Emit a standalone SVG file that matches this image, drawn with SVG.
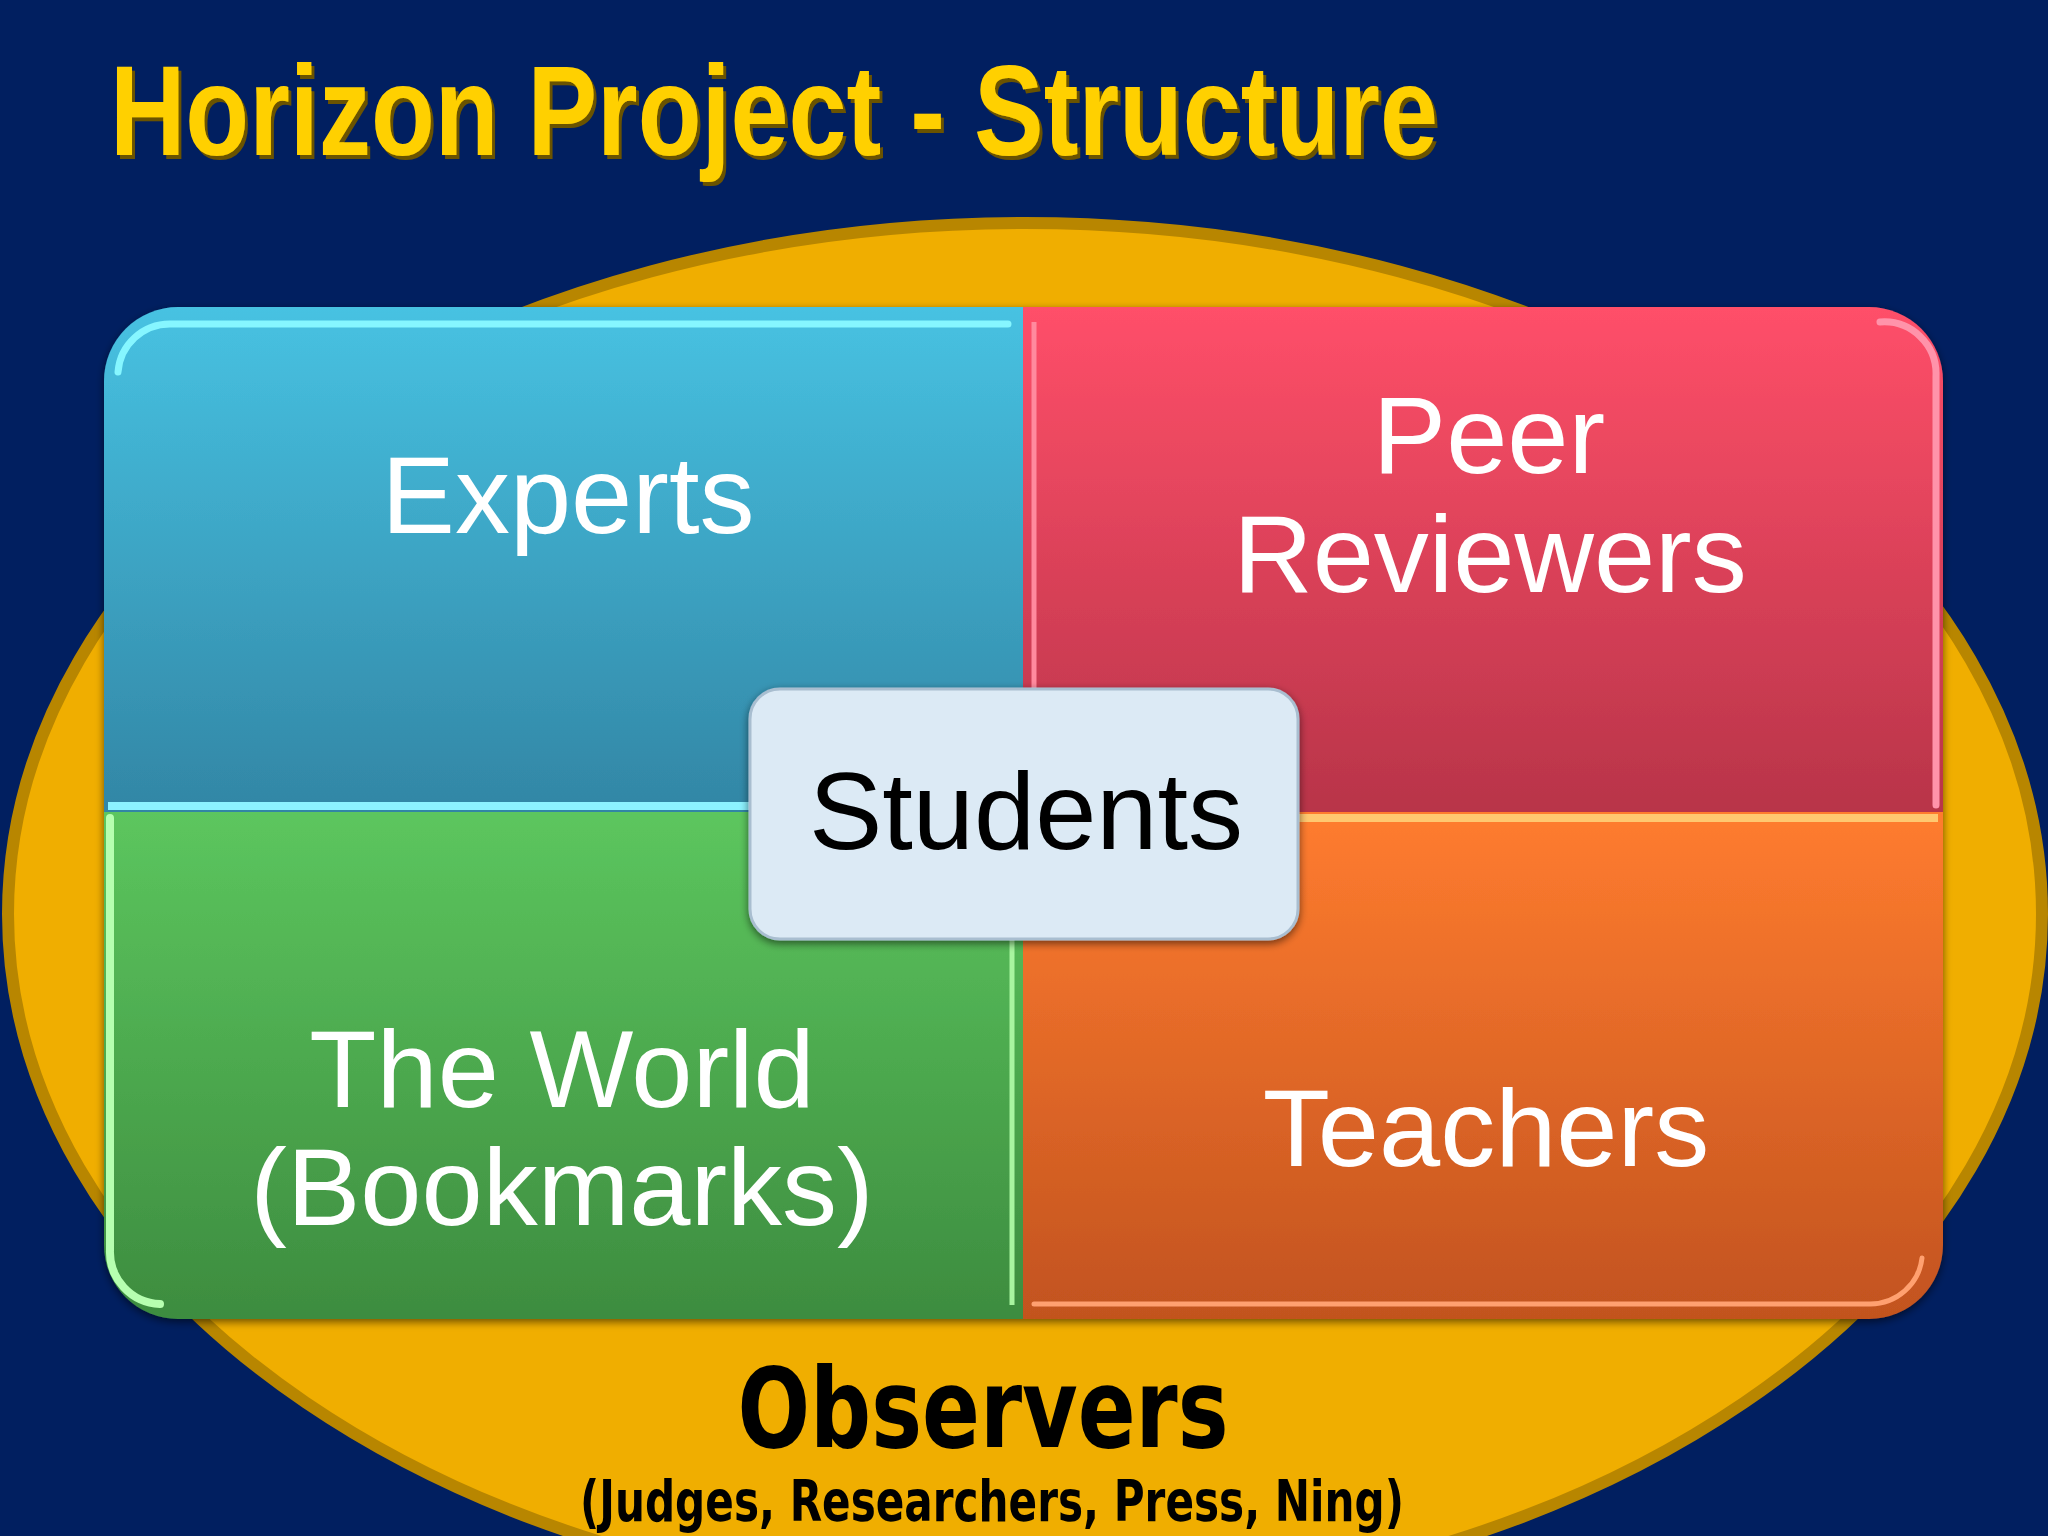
<svg xmlns="http://www.w3.org/2000/svg" width="2048" height="1536" viewBox="0 0 2048 1536">
  <defs>
    <linearGradient id="gBlue" x1="0" y1="0" x2="0" y2="1">
      <stop offset="0" stop-color="#47C2E2"/>
      <stop offset="1" stop-color="#3286A5"/>
    </linearGradient>
    <linearGradient id="gRed" x1="0" y1="0" x2="0" y2="1">
      <stop offset="0" stop-color="#FF4F69"/>
      <stop offset="1" stop-color="#B83449"/>
    </linearGradient>
    <linearGradient id="gGreen" x1="0" y1="0" x2="0" y2="1">
      <stop offset="0" stop-color="#5CC65E"/>
      <stop offset="1" stop-color="#3D8C3F"/>
    </linearGradient>
    <linearGradient id="gOrange" x1="0" y1="0" x2="0" y2="1">
      <stop offset="0" stop-color="#FF7C2F"/>
      <stop offset="1" stop-color="#C2531F"/>
    </linearGradient>
    <filter id="shadow" x="-5%" y="-5%" width="110%" height="115%">
      <feGaussianBlur in="SourceAlpha" stdDeviation="4"/>
      <feOffset dx="0" dy="3" result="b"/>
      <feComponentTransfer><feFuncA type="linear" slope="0.55"/></feComponentTransfer>
      <feMerge><feMergeNode/><feMergeNode in="SourceGraphic"/></feMerge>
    </filter>
    <filter id="titleShadow" x="-2%" y="-10%" width="104%" height="130%">
      <feOffset in="SourceAlpha" dx="3" dy="4" result="o"/>
      <feFlood flood-color="#6b5200"/>
      <feComposite in2="o" operator="in"/>
      <feMerge><feMergeNode/><feMergeNode in="SourceGraphic"/></feMerge>
    </filter>
  </defs>
  <style>
    .lbl { font-family: "Liberation Sans", Arial, sans-serif; font-size: 110px; fill: #FFFFFF; text-anchor: middle; }
    .hl { fill: none; stroke-linecap: round; }
    .obs { font-family: "DejaVu Sans", "Liberation Sans", sans-serif; font-weight: bold; fill: #000000; text-anchor: middle; }
  </style>

  <rect x="0" y="0" width="2048" height="1536" fill="#011F60"/>

  <g id="title">
    <text x="110" y="155" font-family="'Liberation Sans', Arial, sans-serif" font-weight="bold" font-size="128" fill="#FFD000" textLength="1328" lengthAdjust="spacingAndGlyphs" filter="url(#titleShadow)">Horizon Project - Structure</text>
  </g>

  <g id="observers">
    <ellipse cx="1025" cy="914" rx="1017" ry="691" fill="#F0AE00" stroke="#B88600" stroke-width="12"/>
    <text class="obs" x="983" y="1447" font-size="110" textLength="491" lengthAdjust="spacingAndGlyphs">Observers</text>
    <text class="obs" x="992" y="1521" font-size="57" textLength="824" lengthAdjust="spacingAndGlyphs">(Judges, Researchers, Press, Ning)</text>
  </g>

  <g id="matrix" filter="url(#shadow)">
    <g id="experts">
      <path d="M104,381 A74,74 0 0 1 178,307 L1023,307 L1023,812 L104,812 Z" fill="url(#gBlue)"/>
      <path class="hl" d="M118,372 A52,52 0 0 1 170,324 L1008,324" stroke="#86F6FF" stroke-width="7"/>
      <line x1="108" y1="806" x2="1018" y2="806" stroke="#8CF2FF" stroke-width="8"/>
      <text class="lbl" x="568" y="533">Experts</text>
    </g>
    <g id="peer-reviewers">
      <path d="M1023,307 L1869,307 A74,74 0 0 1 1943,381 L1943,813 L1023,813 Z" fill="url(#gRed)"/>
      <line x1="1034" y1="322" x2="1034" y2="800" stroke="#FF8A9E" stroke-width="5"/>
      <path class="hl" d="M1880,322 A52,52 0 0 1 1936,376 L1936,805" stroke="#FF93AA" stroke-width="7"/>
      <text class="lbl" x="1489" y="473">Peer</text>
      <text class="lbl" x="1490" y="592">Reviewers</text>
    </g>
    <g id="the-world">
      <path d="M104,812 L1023,812 L1023,1319 L178,1319 A74,74 0 0 1 104,1245 Z" fill="url(#gGreen)"/>
      <path class="hl" d="M110,818 L110,1250 A52,52 0 0 0 160,1304" stroke="#B6FFB0" stroke-width="8"/>
      <line x1="1012" y1="820" x2="1012" y2="1305" stroke="#A8F5A0" stroke-width="5"/>
      <text class="lbl" x="562" y="1107">The World</text>
      <text class="lbl" x="562" y="1225">(Bookmarks)</text>
    </g>
    <g id="teachers">
      <path d="M1023,812 L1943,812 L1943,1245 A74,74 0 0 1 1869,1319 L1023,1319 Z" fill="url(#gOrange)"/>
      <line x1="1026" y1="818" x2="1938" y2="818" stroke="#FFC870" stroke-width="8"/>
      <path class="hl" d="M1034,1304 L1870,1304 A52,52 0 0 0 1922,1258" stroke="#FFA070" stroke-width="5"/>
      <text class="lbl" x="1486" y="1166">Teachers</text>
    </g>
  </g>

  <g id="students" filter="url(#shadow)">
    <rect x="750" y="689" width="548" height="250" rx="30" ry="30" fill="#DCEAF5" stroke="#A9BED0" stroke-width="3"/>
    <text x="1026" y="849" font-family="'Liberation Sans', Arial, sans-serif" font-size="110" fill="#000000" text-anchor="middle">Students</text>
  </g>

  <g id="connectors"/>
</svg>
